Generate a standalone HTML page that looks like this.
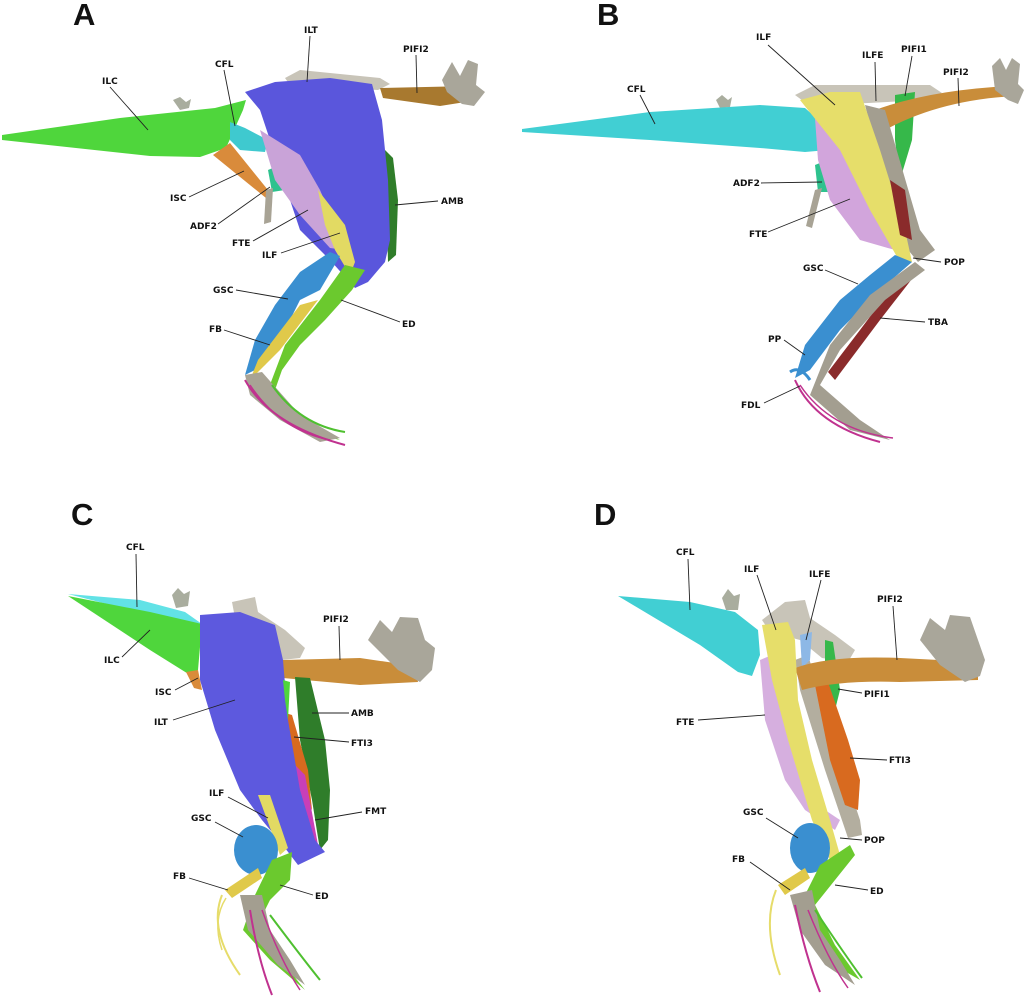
<!DOCTYPE html>
<html><head><meta charset="utf-8"><style>
html,body{margin:0;padding:0;background:#fff;}
svg{display:block;}
text{font-family:"DejaVu Sans","Liberation Sans",sans-serif;font-weight:bold;font-size:9px;fill:#111;}
.big{font-family:"Liberation Sans",sans-serif;font-size:31px;font-weight:bold;}
line{stroke:#222;stroke-width:0.9;}
</style></head><body>
<svg width="1024" height="1004" viewBox="0 0 1024 1004" xmlns="http://www.w3.org/2000/svg">
<rect width="1024" height="1004" fill="#fff"/>

<!-- ===== PANEL A ===== -->
<text class="big" x="73" y="25">A</text>
<path d="M173,100 L180,97 L186,102 L191,99 L189,108 L180,110 Z" fill="#a9ad9e"/>
<path d="M2,135 L120,118 L215,108 L246,100 L243,110 L226,148 L200,157 L150,156 L2,140 Z" fill="#4fd63c"/>
<path d="M230,122 L245,128 L268,140 L265,152 L240,150 L230,140 Z" fill="#3fc9cf"/>
<path d="M213,155 L230,143 L272,195 L266,198 Z" fill="#d98b3b"/>
<path d="M268,170 L280,165 L285,190 L272,192 Z" fill="#2ec28e"/>
<path d="M266,190 L273,188 L271,222 L264,224 Z" fill="#a8a395"/>
<path d="M285,78 L300,70 L380,78 L390,84 L378,90 L290,85 Z" fill="#c8c4b8"/>
<path d="M380,88 L470,86 L478,100 L440,106 L383,98 Z" fill="#a8792f"/>
<path d="M442,80 L452,62 L460,76 L468,60 L478,64 L476,85 L485,92 L474,106 L462,104 L447,92 Z" fill="#a9a69a"/>
<path d="M385,150 L393,158 L398,200 L396,255 L388,262 Z" fill="#2f7d2a"/>
<path d="M245,92 L275,82 L330,78 L372,84 L382,120 L388,180 L390,240 L385,262 L368,282 L355,288 L330,260 L300,230 L270,140 L260,110 Z" fill="#5a56dc"/>
<path d="M260,130 L300,155 L320,190 L335,225 L345,250 L330,248 L300,215 L275,180 Z" fill="#c9a3d8"/>
<path d="M318,190 L345,225 L355,262 L350,275 L335,250 L325,225 Z" fill="#e2da63"/>
<path d="M330,252 L340,256 L320,290 L300,300 L285,330 L265,365 L245,375 L255,340 L275,305 L300,272 Z" fill="#3a8fd0"/>
<path d="M258,360 L300,305 L318,300 L280,350 L250,380 Z" fill="#e0c94a"/>
<path d="M345,265 L365,270 L352,290 L325,320 L300,345 L282,370 L275,390 L300,420 L340,440 L300,430 L268,390 L285,345 L320,300 Z" fill="#6bc92e"/>
<path d="M245,375 L262,372 L300,415 L340,438 L320,442 L280,420 L250,395 Z" fill="#a8a395"/>
<path d="M245,380 Q270,425 345,445" stroke="#c0328f" stroke-width="2" fill="none"/>
<path d="M250,385 Q280,430 330,440" stroke="#c0328f" stroke-width="1.5" fill="none"/>
<path d="M272,385 Q300,425 345,432" stroke="#4fc030" stroke-width="2" fill="none"/>

<text x="304" y="33">ILT</text><line x1="310" y1="36" x2="307" y2="82"/>
<text x="403" y="52">PIFI2</text><line x1="416" y1="55" x2="417" y2="93"/>
<text x="215" y="67">CFL</text><line x1="224" y1="70" x2="235" y2="126"/>
<text x="102" y="84">ILC</text><line x1="110" y1="87" x2="148" y2="130"/>
<text x="170" y="201">ISC</text><line x1="189" y1="197" x2="244" y2="171"/>
<text x="190" y="229">ADF2</text><line x1="218" y1="224" x2="270" y2="187"/>
<text x="232" y="246">FTE</text><line x1="253" y1="241" x2="308" y2="210"/>
<text x="262" y="258">ILF</text><line x1="281" y1="253" x2="340" y2="233"/>
<text x="441" y="204">AMB</text><line x1="438" y1="201" x2="395" y2="205"/>
<text x="213" y="293">GSC</text><line x1="236" y1="290" x2="288" y2="299"/>
<text x="402" y="327">ED</text><line x1="400" y1="322" x2="341" y2="300"/>
<text x="209" y="332">FB</text><line x1="224" y1="330" x2="270" y2="345"/>

<!-- ===== PANEL B ===== -->
<text class="big" x="597" y="25">B</text>
<path d="M716,100 L722,95 L728,100 L732,97 L730,107 L720,108 Z" fill="#a9ad9e"/>
<path d="M522,129 L650,112 L760,105 L805,108 L830,130 L828,150 L805,152 L760,148 L650,140 L522,132 Z" fill="#41cfd3"/>
<path d="M815,165 L832,158 L838,192 L818,192 Z" fill="#2ec28e"/>
<path d="M815,190 L822,188 L812,228 L806,226 Z" fill="#a8a395"/>
<path d="M795,95 L815,85 L930,85 L942,93 L925,100 L810,106 Z" fill="#c8c4b8"/>
<path d="M895,95 L915,92 L912,140 L900,180 L895,140 Z" fill="#36b84a"/>
<path d="M875,110 Q930,90 1010,86 L1015,96 Q940,100 885,130 Z" fill="#c98d3a"/>
<path d="M992,66 L1000,58 L1006,70 L1012,58 L1020,64 L1018,84 L1024,90 L1018,104 L1008,100 L995,90 Z" fill="#a9a69a"/>
<path d="M815,118 L840,100 L880,160 L905,230 L895,250 L860,240 L830,200 L818,160 Z" fill="#d2a5dc"/>
<path d="M865,105 L885,110 L920,230 L935,250 L918,262 L900,240 Z" fill="#a39e90"/>
<path d="M800,100 L830,92 L860,92 L880,150 L905,230 L912,262 L900,262 L870,210 L840,150 Z" fill="#e6de6a"/>
<path d="M890,180 L905,190 L912,240 L900,235 Z" fill="#8a2b2b"/>
<path d="M895,255 L912,262 L880,290 L840,330 L810,370 L795,378 L805,345 L840,300 L870,275 Z" fill="#3a8fd0"/>
<path d="M905,270 L915,275 L880,320 L850,360 L835,380 L828,372 L860,330 Z" fill="#8a2b2b"/>
<path d="M915,262 L925,270 L885,300 L840,350 L820,385 L860,420 L890,440 L850,430 L810,395 L830,345 L870,295 Z" fill="#a39e90"/>
<path d="M795,380 Q815,425 880,442" stroke="#c0328f" stroke-width="2" fill="none"/>
<path d="M800,385 Q830,430 893,438" stroke="#c0328f" stroke-width="1.5" fill="none"/>
<path d="M790,372 Q800,365 810,380" stroke="#3a8fd0" stroke-width="3" fill="none"/>

<text x="756" y="40">ILF</text><line x1="768" y1="45" x2="835" y2="105"/>
<text x="862" y="58">ILFE</text><line x1="875" y1="62" x2="876" y2="101"/>
<text x="901" y="52">PIFI1</text><line x1="912" y1="56" x2="905" y2="96"/>
<text x="943" y="75">PIFI2</text><line x1="958" y1="78" x2="959" y2="106"/>
<text x="627" y="92">CFL</text><line x1="640" y1="95" x2="655" y2="124"/>
<text x="733" y="186">ADF2</text><line x1="761" y1="183" x2="822" y2="182"/>
<text x="749" y="237">FTE</text><line x1="768" y1="232" x2="850" y2="199"/>
<text x="803" y="271">GSC</text><line x1="825" y1="270" x2="858" y2="284"/>
<text x="944" y="265">POP</text><line x1="941" y1="262" x2="913" y2="258"/>
<text x="928" y="325">TBA</text><line x1="925" y1="322" x2="880" y2="318"/>
<text x="768" y="342">PP</text><line x1="784" y1="340" x2="805" y2="355"/>
<text x="741" y="408">FDL</text><line x1="764" y1="403" x2="800" y2="386"/>

<!-- ===== PANEL C ===== -->
<text class="big" x="71" y="525">C</text>
<path d="M172,595 L178,588 L184,594 L190,591 L188,606 L176,608 Z" fill="#a9ad9e"/>
<path d="M68,594 L140,600 L185,612 L202,624 L150,615 Z" fill="#62e2e6"/>
<path d="M68,596 L150,612 L202,624 L198,670 L190,675 L150,650 Z" fill="#4fd63c"/>
<path d="M186,672 L198,670 L202,690 L194,688 Z" fill="#d98b3b"/>
<!-- pelvis -->
<path d="M232,602 L255,597 L258,612 L285,630 L305,648 L300,658 L282,660 L260,630 L235,618 Z" fill="#c8c4b8"/>
<!-- PIFI2 -->
<path d="M283,660 L360,658 L415,666 L418,682 L360,685 L283,678 Z" fill="#c98d3a"/>
<path d="M368,640 L380,620 L392,632 L400,617 L418,618 L425,640 L435,648 L432,670 L420,682 L398,670 Z" fill="#a9a69a"/>
<!-- AMB -->
<path d="M295,677 L310,678 L325,740 L330,790 L328,840 L320,850 L312,800 L300,740 Z" fill="#2f7d2a"/>
<!-- FTI3 / FMT -->
<path d="M282,712 L292,715 L308,770 L312,810 L300,790 Z" fill="#d86a1f"/>
<path d="M290,760 L305,775 L318,845 L306,848 Z" fill="#c83fb8"/>
<!-- ILT blue -->
<path d="M200,615 L240,612 L275,625 L283,660 L288,720 L300,790 L315,840 L325,852 L298,865 L285,848 L262,820 L240,790 L215,730 L200,680 Z" fill="#5d59de"/>
<path d="M283,680 L290,682 L288,720 L285,700 Z" fill="#4fd63c"/>
<!-- ILF yellow -->
<path d="M258,795 L270,795 L288,848 L280,855 Z" fill="#e2da63"/>
<!-- GSC blob -->
<ellipse cx="256" cy="850" rx="22" ry="25" fill="#3a8fd0"/>
<!-- ED green -->
<path d="M272,860 L292,852 L290,880 L270,900 L255,930 L285,965 L305,990 L270,960 L243,930 L255,895 Z" fill="#6bc92e"/>
<!-- FB -->
<path d="M225,890 L258,868 L262,878 L232,898 Z" fill="#e0c94a"/>
<path d="M222,895 Q208,930 240,975" stroke="#e6dc6a" stroke-width="2" fill="none"/>
<path d="M226,898 Q212,920 222,950" stroke="#e6dc6a" stroke-width="1.5" fill="none"/>
<path d="M240,895 L262,895 L270,930 L290,960 L305,985 L278,965 L248,930 Z" fill="#a39e90"/>
<path d="M250,910 Q258,960 272,995" stroke="#c0328f" stroke-width="2" fill="none"/>
<path d="M262,910 Q280,960 300,990" stroke="#c0328f" stroke-width="1.5" fill="none"/>
<path d="M270,915 Q300,955 320,980" stroke="#4fc030" stroke-width="2" fill="none"/>

<text x="126" y="550">CFL</text><line x1="136" y1="554" x2="137" y2="607"/>
<text x="104" y="663">ILC</text><line x1="122" y1="657" x2="150" y2="630"/>
<text x="155" y="695">ISC</text><line x1="175" y1="690" x2="198" y2="678"/>
<text x="154" y="725">ILT</text><line x1="173" y1="720" x2="235" y2="700"/>
<text x="323" y="622">PIFI2</text><line x1="339" y1="626" x2="340" y2="660"/>
<text x="351" y="716">AMB</text><line x1="349" y1="713" x2="312" y2="713"/>
<text x="351" y="746">FTI3</text><line x1="349" y1="742" x2="294" y2="737"/>
<text x="209" y="796">ILF</text><line x1="228" y1="797" x2="268" y2="818"/>
<text x="191" y="821">GSC</text><line x1="215" y1="822" x2="243" y2="837"/>
<text x="365" y="814">FMT</text><line x1="362" y1="812" x2="315" y2="820"/>
<text x="173" y="879">FB</text><line x1="189" y1="878" x2="228" y2="890"/>
<text x="315" y="899">ED</text><line x1="313" y1="895" x2="280" y2="885"/>

<!-- ===== PANEL D ===== -->
<text class="big" x="594" y="525">D</text>
<path d="M722,598 L728,589 L734,596 L740,594 L738,610 L726,610 Z" fill="#a9ad9e"/>
<!-- CFL -->
<path d="M618,596 L690,602 L735,612 L758,630 L760,655 L752,676 L738,672 L700,645 Z" fill="#41cfd3"/>
<!-- pelvis -->
<path d="M762,620 L785,602 L805,600 L810,618 L835,635 L855,650 L848,662 L822,658 L800,640 L770,632 Z" fill="#c8c4b8"/>
<!-- FTE pink -->
<path d="M760,660 L772,655 L790,740 L810,800 L840,820 L835,830 L805,810 L785,780 L765,720 Z" fill="#d6afdf"/>
<!-- femur gray -->
<path d="M795,660 L808,655 L840,760 L860,820 L862,835 L848,838 L825,770 L800,690 Z" fill="#b3ae9f"/>
<!-- ILFE -->
<path d="M800,635 L812,632 L810,660 L802,668 Z" fill="#8db8e6"/>
<!-- PIFI1 -->
<path d="M825,640 L833,642 L840,690 L830,730 L825,700 Z" fill="#36b84a"/>
<!-- FTI3 -->
<path d="M815,685 L828,682 L848,740 L860,780 L858,810 L845,805 L830,760 Z" fill="#d86a1f"/>
<!-- PIFI2 -->
<path d="M795,668 Q830,655 900,658 L978,662 L978,680 L900,682 Q840,680 802,690 Z" fill="#c98d3a"/>
<path d="M920,640 L930,618 L945,630 L950,615 L970,617 L978,640 L985,660 L980,676 L965,682 L940,665 Z" fill="#a9a69a"/>
<!-- ILF yellow -->
<path d="M762,625 L788,622 L795,640 L798,700 L812,760 L830,820 L840,855 L830,860 L812,820 L788,740 L772,680 Z" fill="#e6de6a"/>
<!-- GSC -->
<ellipse cx="810" cy="848" rx="20" ry="25" fill="#3a8fd0"/>
<!-- ED -->
<path d="M820,865 L850,845 L855,855 L835,880 L815,905 L835,945 L860,980 L825,960 L805,925 L805,895 Z" fill="#6bc92e"/>
<!-- FB -->
<path d="M778,885 L805,868 L810,878 L785,895 Z" fill="#e0c94a"/>
<path d="M776,890 Q762,925 780,975" stroke="#e6dc6a" stroke-width="2" fill="none"/>
<path d="M790,895 L812,890 L820,930 L840,960 L855,985 L825,965 L800,930 Z" fill="#a39e90"/>
<path d="M795,905 Q805,955 820,992" stroke="#c0328f" stroke-width="2" fill="none"/>
<path d="M808,910 Q828,960 848,988" stroke="#c0328f" stroke-width="1.5" fill="none"/>
<path d="M815,910 Q845,955 862,978" stroke="#4fc030" stroke-width="2" fill="none"/>

<text x="676" y="555">CFL</text><line x1="688" y1="559" x2="690" y2="610"/>
<text x="744" y="572">ILF</text><line x1="757" y1="575" x2="776" y2="630"/>
<text x="809" y="577">ILFE</text><line x1="821" y1="580" x2="806" y2="640"/>
<text x="877" y="602">PIFI2</text><line x1="893" y1="606" x2="897" y2="660"/>
<text x="864" y="697">PIFI1</text><line x1="862" y1="693" x2="838" y2="689"/>
<text x="676" y="725">FTE</text><line x1="698" y1="720" x2="765" y2="715"/>
<text x="889" y="763">FTI3</text><line x1="887" y1="760" x2="850" y2="758"/>
<text x="743" y="815">GSC</text><line x1="766" y1="818" x2="798" y2="838"/>
<text x="864" y="843">POP</text><line x1="862" y1="840" x2="840" y2="838"/>
<text x="732" y="862">FB</text><line x1="750" y1="862" x2="790" y2="890"/>
<text x="870" y="894">ED</text><line x1="868" y1="890" x2="835" y2="885"/>
</svg>
</body></html>
